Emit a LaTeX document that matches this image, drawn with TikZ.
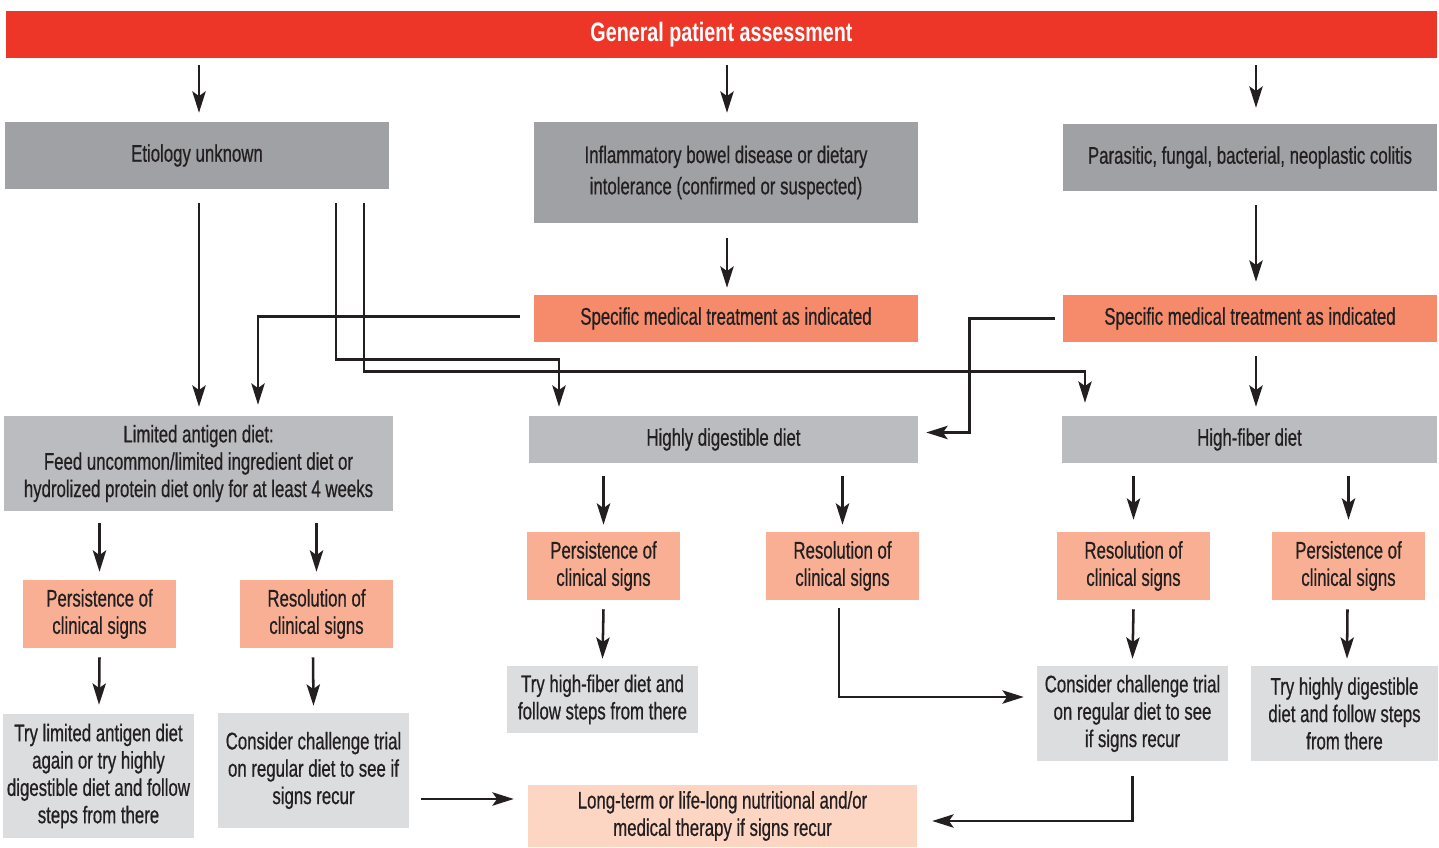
\documentclass[tikz,border=0pt]{standalone}
\usepackage{fontspec}
\setmainfont{Liberation Sans}[FakeStretch=0.7,FakeBold=0.6]
\newfontfamily\headfont{Liberation Sans}[FakeStretch=0.74,BoldFont={Liberation Sans Bold}]
\usetikzlibrary{calc,arrows.meta}
\definecolor{hdred}{HTML}{EE3628}
\definecolor{dkgray}{HTML}{A0A1A5}
\definecolor{ltgray}{HTML}{BBBCC0}
\definecolor{vlgray}{HTML}{DCDDDF}
\definecolor{orng}{HTML}{F58B6B}
\definecolor{salm}{HTML}{F8AF93}
\definecolor{peach}{HTML}{FDD5C3}
\definecolor{txt}{HTML}{231F20}
\tikzset{
  box/.style={draw=none, inner sep=0pt, align=center, text=txt,
    font=\fontsize{18}{20.5}\selectfont},
  arr/.style={draw=txt, line width=1.9pt, -{Stealth[length=16pt,width=10pt,inset=3.5pt]}},
  ln/.style={draw=txt, line width=1.9pt}
}
\newcommand\mkbox[7]{\node[box, #6, minimum width={(#4-#2)*0.75pt}, minimum height={(#5-#3)*0.75pt}] (#1) at ({(#2+#4)/2},{(#3+#5)/2}) {#7};}
\begin{document}
\begin{tikzpicture}[x=0.75pt,y=-0.75pt]
\useasboundingbox[fill=white] (0,0) rectangle (1439,848);
\mkbox{head}{6}{11}{1437}{58}{fill=hdred, text=white, font=\headfont\bfseries\fontsize{20}{22}\selectfont}{General patient assessment}
\mkbox{ety}{5}{122}{389}{189}{fill=dkgray}{Etiology unknown}
\mkbox{ibd}{534}{122}{918}{223}{fill=dkgray}{Inflammatory bowel disease or dietary\\[3pt]intolerance (confirmed or suspected)}
\mkbox{par}{1063}{124}{1437}{191}{fill=dkgray}{Parasitic, fungal, bacterial, neoplastic colitis}
\mkbox{spec1}{534}{295}{918}{342}{fill=orng}{Specific medical treatment as indicated}
\mkbox{spec2}{1063}{295}{1437}{342}{fill=orng}{Specific medical treatment as indicated}
\mkbox{lim}{4}{416}{393}{511}{fill=ltgray}{Limited antigen diet:\\Feed uncommon/limited ingredient diet or\\hydrolized protein diet only for at least 4 weeks}
\mkbox{hdd}{529}{416}{918}{463}{fill=ltgray}{Highly digestible diet}
\mkbox{hfd}{1062}{416}{1437}{463}{fill=ltgray}{High-fiber diet}
\mkbox{pL}{23}{580}{176}{648}{fill=salm}{Persistence of\\clinical signs}
\mkbox{rL}{240}{580}{393}{648}{fill=salm}{Resolution of\\clinical signs}
\mkbox{tL}{3}{714}{194}{838}{fill=vlgray}{Try limited antigen diet\\again or try highly\\digestible diet and follow\\steps from there}
\mkbox{cL}{218}{713}{409}{828}{fill=vlgray}{Consider challenge trial\\on regular diet to see if\\signs recur}
\mkbox{pM}{527}{532}{680}{600}{fill=salm}{Persistence of\\clinical signs}
\mkbox{rM}{766}{532}{919}{600}{fill=salm}{Resolution of\\clinical signs}
\mkbox{tM}{507}{666}{698}{733}{fill=vlgray}{Try high-fiber diet and\\follow steps from there}
\mkbox{lt}{528}{785}{917}{847}{fill=peach}{Long-term or life-long nutritional and/or\\medical therapy if signs recur}
\mkbox{rR}{1057}{532}{1210}{600}{fill=salm}{Resolution of\\clinical signs}
\mkbox{pR}{1272}{532}{1425}{600}{fill=salm}{Persistence of\\clinical signs}
\mkbox{cR}{1037}{666}{1228}{761}{fill=vlgray}{Consider challenge trial\\on regular diet to see\\if signs recur}
\mkbox{tR}{1251}{666}{1438}{761}{fill=vlgray}{Try highly digestible\\diet and follow steps\\from there}
% arrows from header
\draw[arr] ($(head.south -| ety.north)+(2,7)$) -- ($(ety.north)+(2,-9)$);
\draw[arr] ($(head.south -| ibd.north)+(1,7)$) -- ($(ibd.north)+(1,-9)$);
\draw[arr] ($(head.south -| par.north)+(6,7)$) -- ($(par.north)+(6,-16)$);
% etiology
\draw[arr] ($(ety.south)+(2,14)$) -- ($(lim.north)+(0.5,-9)$);
\draw[arr] ($(ety.south)+(139,14)$) |- ($(hdd.north)+(-164.5,-56)$) -- ($(hdd.north)+(-164.5,-9)$);
\draw[arr] ($(ety.south)+(167,14)$) |- ($(hfd.north)+(-164.5,-44)$) -- ($(hfd.north)+(-164.5,-13)$);
% IBD
\draw[arr] ($(ibd.south)+(1,15)$) -- ($(spec1.north)+(1,-7)$);
\draw[arr] ($(spec1.west)+(-14,-2)$) -| ($(lim.north)+(59.5,-11)$);
% parasitic
\draw[arr] ($(par.south)+(6,14)$) -- ($(spec2.north)+(6,-13)$);
\draw[arr] ($(spec2.west)+(-8,0)$) -| ($(hdd.east)+(51,-7)$) -- ($(hdd.east)+(8,-7)$);
\draw[arr] ($(spec2.south)+(6,14)$) -- ($(hfd.north)+(6.5,-9)$);
% limited antigen
\draw[arr] ($(lim.south -| pL.north)+(0,12)$) -- ($(pL.north)+(0,-8)$);
\draw[arr] ($(lim.south -| rL.north)+(0,12)$) -- ($(rL.north)+(0,-8)$);
\draw[arr] ($(pL.south)+(0,9)$) -- ($(tL.north)+(0.5,-9)$);
\draw[arr] ($(rL.south)+(-3.5,9)$) -- ($(cL.north)+(0,-7)$);
\draw[arr] ($(cL.east)+(12,28.5)$) -- ($(lt.west)+(-14,-17)$);
% highly digestible
\draw[arr] ($(hdd.south -| pM.north)+(0,13)$) -- ($(pM.north)+(0,-7)$);
\draw[arr] ($(hdd.south -| rM.north)+(0,13)$) -- ($(rM.north)+(0,-7)$);
\draw[arr] ($(pM.south)+(0,9)$) -- ($(tM.north)+(0,-7)$);
\draw[arr] ($(rM.south)+(-3.5,8)$) |- ($(cR.west)+(-13,-16.5)$);
% high fiber
\draw[arr] ($(hfd.south -| rR.north)+(0,13)$) -- ($(rR.north)+(0,-12)$);
\draw[arr] ($(hfd.south -| pR.north)+(0,13)$) -- ($(pR.north)+(0,-12)$);
\draw[arr] ($(rR.south)+(0,9)$) -- ($(cR.north)+(0,-7)$);
\draw[arr] ($(pR.south)+(-1,9)$) -- ($(tR.north)+(2.5,-7)$);
\draw[arr] ($(cR.south)+(0,15)$) |- ($(lt.east)+(15,5)$);
\end{tikzpicture}
\end{document}
